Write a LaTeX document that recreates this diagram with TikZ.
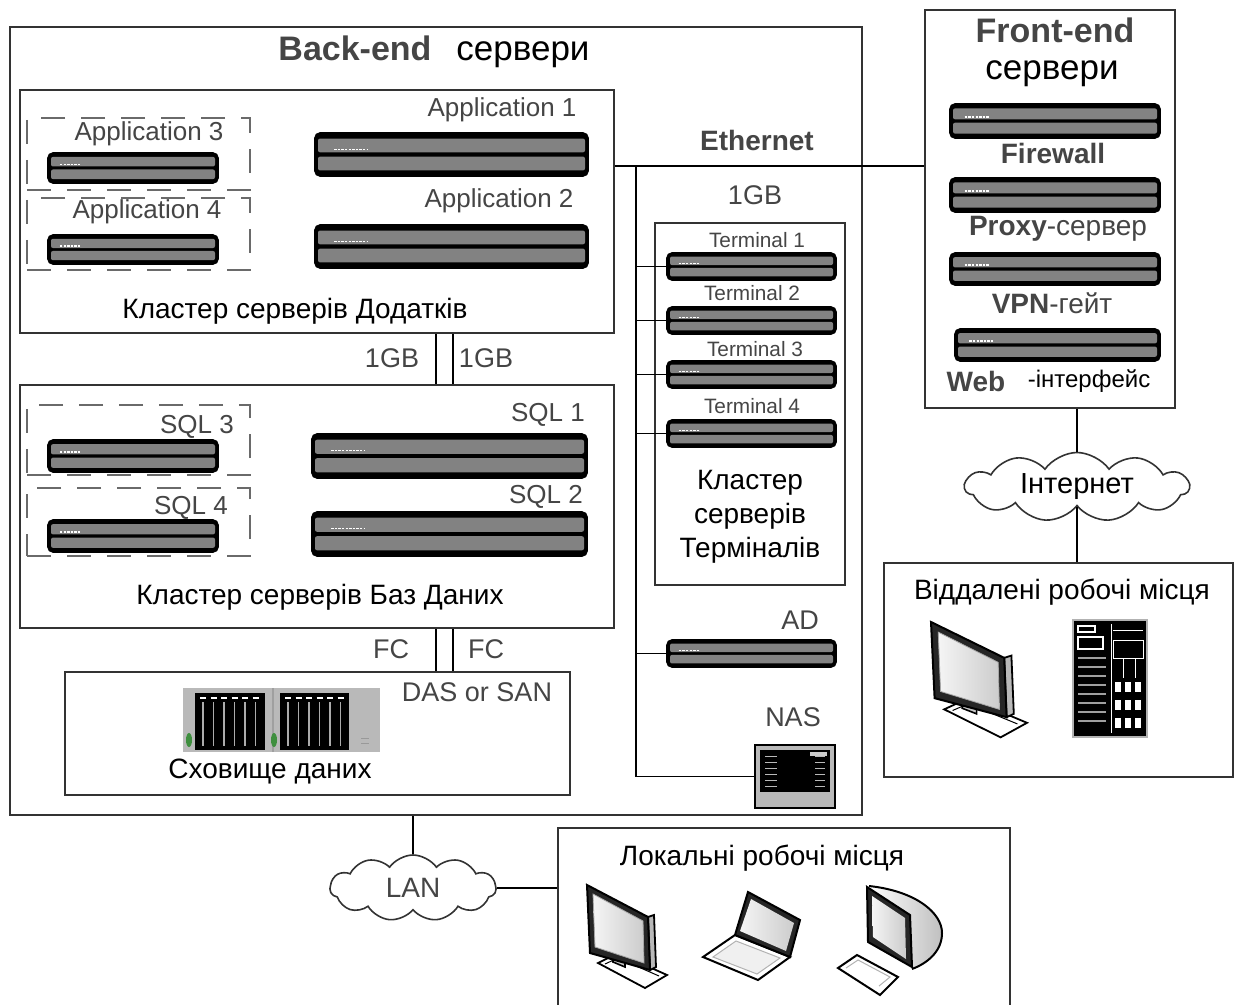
\documentclass[tikz,border=0pt]{standalone}
\usepackage{fontspec}
\setmainfont{Liberation Sans}
\usetikzlibrary{fit,shapes.symbols,calc}
\definecolor{frame}{HTML}{333333}
\definecolor{srvgray}{HTML}{828282}
\definecolor{txtgray}{HTML}{454545}
\definecolor{dashgray}{HTML}{6A6A6A}
\definecolor{ledgreen}{HTML}{3F8F3F}

\tikzset{
  box/.style={draw=frame, line width=1pt, inner sep=0pt},
  dgroup/.style={draw=dashgray, line width=1pt, dash pattern=on 12pt off 8pt, inner sep=0pt},
  net/.style={draw=black, line width=0.7pt},
  srv/.style={fit={#1}, inner sep=0pt, draw=black, line width=0.8pt, fill=black, rounded corners=2.5pt,
    path picture={
      \fill[srvgray, rounded corners=1pt]
        let \p1=(path picture bounding box.south west), \p2=(path picture bounding box.north east) in
        (\x1+1.5pt,{\y1+0.13*(\y2-\y1)}) rectangle (\x2-1.5pt,{\y1+0.45*(\y2-\y1)})
        (\x1+1.5pt,{\y1+0.55*(\y2-\y1)}) rectangle (\x2-1.5pt,{\y1+0.87*(\y2-\y1)});
      \draw[white, line width=0.7pt, dash pattern=on 1.2pt off 0.6pt]
        let \p1=(path picture bounding box.south west), \p2=(path picture bounding box.north east) in
        ({\x1+0.07*(\x2-\x1)},{\y1+0.62*(\y2-\y1)}) -- ({\x1+0.19*(\x2-\x1)},{\y1+0.62*(\y2-\y1)});
    }},
  lbl/.style={inner sep=0pt, text=black, font=\fontsize{14}{17}\selectfont},
  glbl/.style={inner sep=0pt, text=txtgray, font=\fontsize{13}{15}\selectfont},
  tlbl/.style={inner sep=0pt, text=txtgray, font=\fontsize{10.4}{12}\selectfont},
  blbl/.style={inner sep=0pt, text=txtgray, font=\bfseries\fontsize{14}{16}\selectfont},
  title/.style={inner sep=0pt, font=\fontsize{17.5}{20}\selectfont},
  cloudn/.style={cloud, cloud puffs=11, cloud puff arc=110, draw=frame, line width=0.8pt, fill=white, inner sep=0pt},
  % flat-panel monitor
  lcd/.pic={
    \filldraw[fill=white, draw=black, line width=0.9pt] (11,78) -- (31,68) -- (80,90) -- (58,103) -- cycle;
    \draw[black, line width=0.5pt] (18,79) -- (31,73) -- (72,91);
    \filldraw[fill=gray!45, draw=black, line width=0.8pt] (26,62) -- (38,67) -- (38,82) -- (26,77) -- cycle;
    \filldraw[fill=gray!55, draw=black, line width=0.9pt] (61,32) -- (67,30) -- (69,82) -- (63,85) -- cycle;
    \filldraw[fill=black!85, draw=black, line width=1pt] (0,0) -- (61,32) -- (63,85) -- (3,68) -- cycle;
    \shade[left color=gray!8, right color=gray!40] (6,9) -- (56,36) -- (57,78) -- (8,62) -- cycle;
    \draw[gray!70, line width=0.4pt] (6,9) -- (56,36) -- (57,78) -- (8,62) -- cycle;
  },
  % notebook
  laptop/.pic={
    \filldraw[fill=white, draw=black, line width=1pt] (3,69) -- (35,47) -- (90,69) -- (58,92) -- cycle;
    \filldraw[fill=gray!12, draw=gray!60, line width=0.5pt] (13,69) -- (36,53) -- (80,70) -- (57,86) -- cycle;
    \filldraw[fill=black!85, draw=black, line width=1pt] (35,47) -- (48,4) -- (100,32) -- (90,69) -- cycle;
    \shade[left color=gray!8, right color=gray!40] (40,43) -- (51,11) -- (94,35) -- (86,63) -- cycle;
  },
  % CRT monitor with keyboard
  crt/.pic={
    \filldraw[fill=white, draw=black, line width=1pt] (0,83) -- (19,70) -- (60,92) -- (42,110) -- cycle;
    \draw[gray!60, line width=0.5pt] (8,83) -- (20,75) -- (52,92) -- (41,101);
    \shade[left color=white, right color=gray!50]
      (31,1) .. controls (78,6) and (104,28) .. (104,48) .. controls (104,66) and (90,78) .. (74,84) -- cycle;
    \draw[black, line width=1pt]
      (31,1) .. controls (78,6) and (104,28) .. (104,48) .. controls (104,66) and (90,78) .. (74,84);
    \filldraw[fill=black!85, draw=black, line width=1pt] (29,2) -- (72,30) -- (74,82) -- (30,57) -- cycle;
    \shade[left color=gray!8, right color=gray!40] (34,11) -- (67,33) -- (68,74) -- (35,52) -- cycle;
  },
  % tower server
  tower/.pic={
    \filldraw[fill=black, draw=gray!60, line width=0.6pt] (0,0) rectangle (74,117);
    \draw[white, line width=0.6pt] (5,6) rectangle (22,12) (5,17) rectangle (30,29);
    \draw[white, line width=0.5pt] (40,10) -- (70,10) (40,20) rectangle (70,38);
    \foreach \j in {0,...,7} \draw[gray!75, line width=0.7pt] (5,38+\j*9) -- (33,38+\j*9);
    \draw[white, line width=0.5pt] (38,4) -- (38,113) (50,38) -- (50,58) (62,38) -- (62,58);
    \foreach \r in {0,1,2} \foreach \c in {0,1,2}
      \fill[white] (42+\c*10,62+\r*18) rectangle (48+\c*10,72+\r*18);
  },
  % disk array
  diskarray/.pic={
    \fill[gray!55] (0,0) rectangle (197,64);
    \fill[black] (12,5) rectangle (82,62);
    \fill[black] (97,5) rectangle (166,62);
    \draw[gray!75, line width=0.8pt] (90,0) -- (90,64);
    \foreach \o in {0,85} {
      \foreach \i in {0,...,5} {
        \draw[gray!65, line width=0.7pt] (20+\o+\i*10.5,14) -- (20+\o+\i*10.5,58);
        \draw[white, line width=0.8pt] (17+\o+\i*10.5,10) -- (23+\o+\i*10.5,10);
      }
      \fill[ledgreen] (6+\o,52) ellipse (3 and 7);
    }
    \draw[gray!80, line width=0.5pt] (178,50) -- (186,50) (178,55) -- (186,55);
  },
  % network storage appliance
  nasbox/.pic={
    \fill[gray!55] (0,0) rectangle (80,63);
    \draw[black, line width=0.6pt] (0,0) rectangle (80,63);
    \fill[black] (5,5) rectangle (75,47);
    \foreach \j in {1,...,6} {
      \draw[gray!55, line width=0.4pt] (10,5+\j*6) -- (22,5+\j*6);
      \draw[gray!55, line width=0.4pt] (60,5+\j*6) -- (70,5+\j*6);
    }
    \fill[gray!40] (55,7) rectangle (72,11);
  }
}

\begin{document}
\begin{tikzpicture}[x=0.5pt, y=-0.5pt]
\useasboundingbox (0,0) rectangle (1235,1005);
\clip (0,0) rectangle (1235,1005);
\fill[white] (0,0) rectangle (1235,1005);

% ---------- back-end area ----------
\node[box, fit={(10,27) (862,815)}] (back) {};
\node[title, font=\bfseries\fontsize{17}{20}\selectfont, text=txtgray] (backt) at (355,48) {Back-end};
\node[title] (backs) at (523,55) {сервери};

% application cluster
\node[box, fit={(20,90) (614,333)}] (appbox) {};
\node[dgroup, fit={(27,118) (250,190)}] (app3g) {};
\node[dgroup, fit={(27,198) (250,270)}] (app4g) {};
\node[srv={(315,133) (588,176)}] (app1) {};
\node[srv={(315,225) (588,268)}] (app2) {};
\node[srv={(48,153) (218,183)}] (app3) {};
\node[srv={(48,235) (218,264)}] (app4) {};
\node[glbl] (app1l) at (502,110) {Application 1};
\node[glbl] (app2l) at (499,201) {Application 2};
\node[glbl] (app3l) at (149,134) {Application 3};
\node[glbl] (app4l) at (147,212) {Application 4};
\node[lbl] (appcl) at (295,311) {Кластер серверів Додатків};

% database cluster
\node[box, fit={(20,385) (614,628)}] (dbbox) {};
\node[dgroup, fit={(27,405) (250,475)}] (sql3g) {};
\node[dgroup, fit={(27,488) (250,556)}] (sql4g) {};
\node[srv={(312,434) (587,478)}] (sql1) {};
\node[srv={(312,512) (587,556)}] (sql2) {};
\node[srv={(48,440) (218,472)}] (sql3) {};
\node[srv={(48,520) (218,552)}] (sql4) {};
\node[glbl] (sql1l) at (548,415) {SQL 1};
\node[glbl] (sql2l) at (546,497) {SQL 2};
\node[glbl] (sql3l) at (197,427) {SQL 3};
\node[glbl] (sql4l) at (191,508) {SQL 4};
\node[lbl] (dbcl) at (320,597) {Кластер серверів Баз Даних};

% storage
\node[box, fit={(65,672) (570,795)}] (stor) {};
\pic at (183,688) {diskarray};
\node[inner sep=0pt, fit={(183,688) (380,752)}] (disks) {};
\node[glbl, font=\fontsize{13.5}{15}\selectfont] (storl) at (477,692) {DAS or SAN};
\node[lbl] (storc) at (270,772) {Сховище даних};

% links between clusters
\coordinate (ga) at (436,360);
\coordinate (gb) at (453,360);
\draw[net] (ga |- appbox.south) -- (ga |- dbbox.north);
\draw[net] (gb |- appbox.south) -- (gb |- dbbox.north);
\draw[net] (ga |- dbbox.south) -- (ga |- stor.north);
\draw[net] (gb |- dbbox.south) -- (gb |- stor.north);
\node[glbl, font=\fontsize{13.5}{15}\selectfont] (gbl1) at (392,358) {1GB};
\node[glbl, font=\fontsize{13.5}{15}\selectfont] (gbl2) at (486,358) {1GB};
\node[glbl, font=\fontsize{13.5}{15}\selectfont] (fcl1) at (391,649) {FC};
\node[glbl, font=\fontsize{13.5}{15}\selectfont] (fcl2) at (486,649) {FC};

% terminal cluster
\node[box, fit={(655,223) (845,585)}] (termbox) {};
\node[srv={(667,253) (836,280)}] (t1) {};
\node[srv={(667,307) (836,334)}] (t2) {};
\node[srv={(667,361) (836,388)}] (t3) {};
\node[srv={(667,420) (836,447)}] (t4) {};
\node[tlbl] (t1l) at (757,240) {Terminal 1};
\node[tlbl] (t2l) at (752,293) {Terminal 2};
\node[tlbl] (t3l) at (755,349) {Terminal 3};
\node[tlbl] (t4l) at (752,406) {Terminal 4};
\node[lbl, align=center, font=\fontsize{14}{17}\selectfont] (termcl) at (750,517) {Кластер\\серверів\\Терміналів};

% directory and NAS
\node[srv={(667,640) (836,667)}] (ad) {};
\node[glbl, font=\fontsize{13.5}{15}\selectfont] (adl) at (800,620) {AD};
\pic at (755,745) {nasbox};
\node[inner sep=0pt, fit={(755,745) (835,808)}] (nas) {};
\node[glbl, font=\fontsize{13.5}{15}\selectfont] (nasl) at (793,717) {NAS};

% ---------- front-end area ----------
\node[box, fit={(925,10) (1175,408)}] (front) {};
\node[title, font=\bfseries\fontsize{17}{20}\selectfont, text=txtgray] (frontt) at (1055,30) {Front-end};
\node[title] (fronts) at (1052,74) {сервери};
\node[srv={(950,104) (1160,138)}] (fw) {};
\node[srv={(950,178) (1160,212)}] (px) {};
\node[srv={(950,253) (1160,285)}] (vpn) {};
\node[srv={(955,329) (1160,361)}] (web) {};
\node[blbl] (fwl) at (1053,153) {Firewall};
\node[blbl, font=\fontsize{14}{16}\selectfont] (pxl) at (1058,229) {\textbf{Proxy}-сервер};
\node[blbl, font=\fontsize{14}{16}\selectfont] (vpnl) at (1052,303) {\textbf{VPN}-гейт};
\node[blbl] (webl) at (976,381) {Web};
\node[lbl, font=\fontsize{12}{14}\selectfont] (webs) at (1089,381) {-інтерфейс};

% ---------- Ethernet backbone ----------
\coordinate (eth) at (636,166);
\node[blbl] (ethl) at (757,140) {Ethernet};
\node[glbl, font=\fontsize{13.5}{15}\selectfont] (ethgb) at (755,195) {1GB};
\draw[net] (appbox.east |- eth) -- (front.west |- eth);
\draw[net] (eth) |- (nas.west);
\foreach \n in {t1,t2,t3,t4,ad} \draw[net] (eth |- \n.west) -- (\n.west);

% ---------- Internet and remote workplaces ----------
\node[box, fit={(884,563) (1233,777)}] (remote) {};
\node[lbl] (remotel) at (1062,592) {Віддалені робочі місця};
\pic[xscale=1.2, yscale=1.12] at (931,622) {lcd};
\pic at (1073,620) {tower};
\node[cloudn, aspect=3.4, minimum width=112pt, minimum height=33pt, font=\fontsize{14.5}{16}\selectfont] (inet) at (1077,487) {Інтернет};
\draw[net] (inet.north |- front.south) -- (inet.north);
\draw[net] (inet.south) -- (inet.south |- remote.north);

% ---------- LAN and local workplaces ----------
\node[box, fit={(558,828) (1010,1012)}] (local) {};
\node[lbl] (locall) at (762,858) {Локальні робочі місця};
\pic at (587,885) {lcd};
\pic at (700,888) {laptop};
\pic at (838,885) {crt};
\node[cloudn, aspect=2.5, minimum width=83pt, minimum height=33pt, font=\fontsize{14}{16}\selectfont, text=txtgray] (lan) at (413,888) {LAN};
\draw[net] (lan.north |- back.south) -- (lan.north);
\draw[net] (lan.east) -- (lan.east -| local.west);
\end{tikzpicture}
\end{document}
